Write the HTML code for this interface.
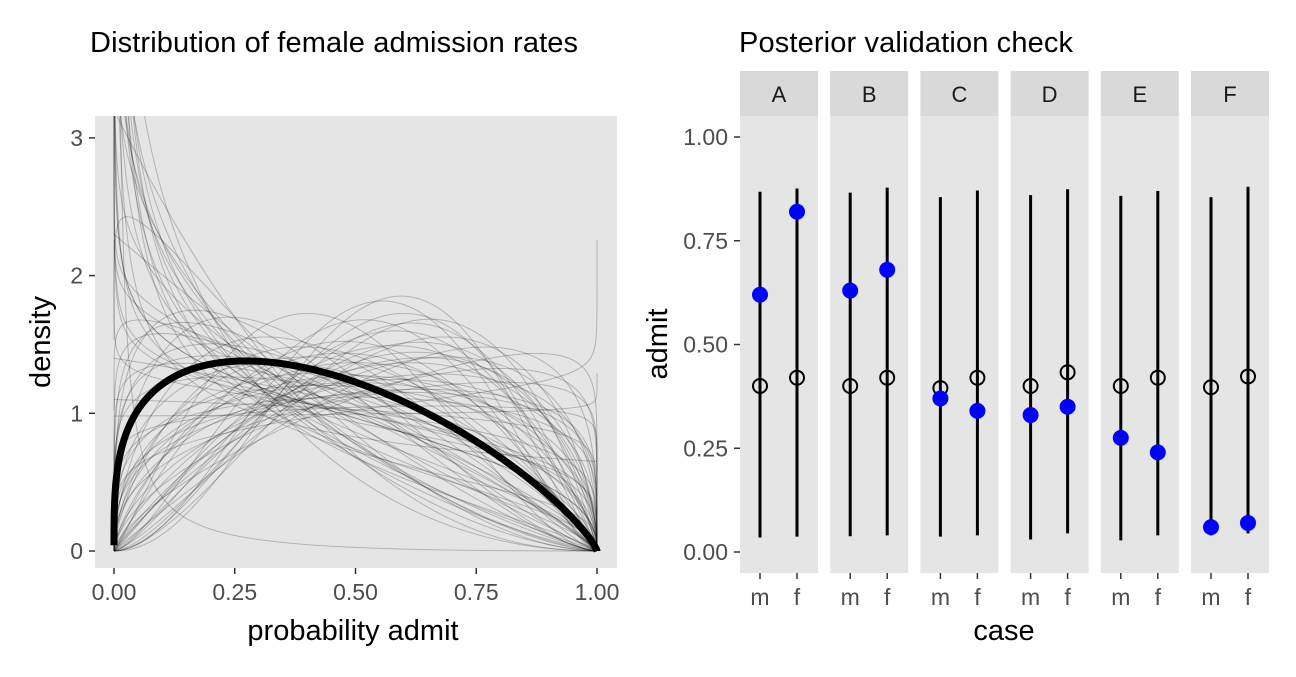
<!DOCTYPE html>
<html><head><meta charset="utf-8"><style>
body{margin:0;background:#fff;font-family:"Liberation Sans",sans-serif}
svg text{font-family:"Liberation Sans",sans-serif}
</style></head><body>
<svg id="s" width="1296" height="672" xmlns="http://www.w3.org/2000/svg">
<defs><clipPath id="lc"><rect x="95" y="116" width="522" height="452"/></clipPath></defs>
<text x="90" y="52" font-size="29" textLength="488" fill="#000">Distribution of female admission rates</text>
<text x="739" y="52" font-size="29" textLength="334" fill="#000">Posterior validation check</text>
<rect x="95" y="116" width="522" height="452" fill="#e5e5e5"/>
<g id="lg"></g><g id="rg"></g>
<text x="353" y="640" font-size="29" text-anchor="middle">probability admit</text>
<text transform="translate(50,342) rotate(-90)" font-size="29" text-anchor="middle">density</text>
<text x="1004" y="640" font-size="29" text-anchor="middle">case</text>
<text transform="translate(667,344) rotate(-90)" font-size="29" text-anchor="middle">admit</text>
</svg>
<script>
const NS="http://www.w3.org/2000/svg";
const mainShape=[1.3,1.8];
const alphas=[0.6,0.7,0.8,0.9,1.0,1.1,1.2,1.3,1.4,1.5,1.6,1.8,2.0,2.2,2.5,0.75,0.85,0.95,1.05,1.15,1.25,1.35,1.45,1.6,1.7,1.9,2.1,2.4,2.8,3.0,0.65,0.9,1.1,1.3,1.5,1.7,2.0,2.3,2.6,0.8,1.0,1.2,1.4,1.6,1.8,2.2,0.7,1.0,1.3,1.7,2.0,0.9,1.2,1.5,0.85,1.1,1.6,1.9,0.05,1.2,3.2,2.7,1.4,1.0,0.95,0.55,0.6,0.7,0.75,0.8,0.85,0.9,0.95,1.0,1.05];
const betas=[1.5,2.0,1.2,2.5,1.1,1.6,2.2,1.4,1.8,2.6,1.3,1.9,2.1,1.7,2.4,3.0,1.4,1.8,2.8,1.5,2.0,1.2,1.6,2.3,1.1,1.4,1.8,2.0,2.2,2.6,1.0,1.3,1.9,2.5,1.5,1.7,1.3,1.6,2.0,2.2,3.2,1.2,1.4,1.9,1.5,2.8,1.7,1.4,1.2,2.1,1.6,1.25,1.8,1.35,2.4,1.05,1.15,1.5,3.0,0.95,2.5,1.9,1.1,0.98,1.7,1.3,1.8,2.2,1.6,2.6,1.4,2.0,1.2,2.3,1.9];
const xTicks=[0,0.25,0.5,0.75,1], xLabels=["0.00","0.25","0.50","0.75","1.00"];
const yTicks=[0,1,2,3];
const X=v=>114+v*483, Y=v=>551-v*137.7;
function lg(z){const g=[0.99999999999980993,676.5203681218851,-1259.1392167224028,771.32342877765313,-176.61502916214059,12.507343278686905,-0.13857109526572012,9.9843695780195716e-6,1.5056327351493116e-7];
 if(z<0.5)return Math.log(Math.PI/Math.sin(Math.PI*z))-lg(1-z);z-=1;let x=g[0];for(let i=1;i<9;i++)x+=g[i]/(z+i);const t=z+7.5;return 0.5*Math.log(2*Math.PI)+(z+0.5)*Math.log(t)-t+Math.log(x);}
function dens(x,a,b){return Math.exp((a-1)*Math.log(x)+(b-1)*Math.log(1-x)+lg(a+b)-lg(a)-lg(b));}
const xs=[];for(let i=0;i<=400;i++){let u=i/400;xs.push(u<0.5?0.5*Math.pow(2*u,3):1-0.5*Math.pow(2*(1-u),3));}
function pathFor(a,b){let d="";xs.forEach((x,i)=>{let xx=Math.min(Math.max(x,1e-6),1-1e-6);let y=Math.min(dens(xx,a,b),4);d+=(i?"L":"M")+X(x).toFixed(2)+","+Y(y).toFixed(2);});return d;}
const L=document.getElementById("lg");
function mk(tag,at,par){const e=document.createElementNS(NS,tag);for(const k in at)e.setAttribute(k,at[k]);par.appendChild(e);return e;}
yTicks.forEach(t=>{
 mk("line",{x1:89,x2:95,y1:Y(t),y2:Y(t),stroke:"#333","stroke-width":1.5},L);
 const tx=mk("text",{x:83,y:Y(t)+8,"font-size":23,"text-anchor":"end",fill:"#4d4d4d"},L);tx.textContent=t;});
xTicks.forEach((t,i)=>{
 mk("line",{x1:X(t),x2:X(t),y1:568,y2:574,stroke:"#333","stroke-width":1.5},L);
 const tx=mk("text",{x:X(t),y:600,"font-size":23,"text-anchor":"middle",fill:"#4d4d4d"},L);tx.textContent=xLabels[i];});
const cg=mk("g",{"clip-path":"url(#lc)"},L);
alphas.forEach((a,i)=>{const p=mk("path",{d:pathFor(a,betas[i]),fill:"none",stroke:"#000","stroke-opacity":0.22,"stroke-width":1},cg);});
const mp=mk("path",{d:pathFor(mainShape[0],mainShape[1]),fill:"none",stroke:"#000","stroke-width":7,"stroke-linejoin":"round"},cg);

const depts=["A","B","C","D","E","F"];
const cases=["m","f"];
const observed=[[0.62,0.82],[0.63,0.68],[0.37,0.34],[0.33,0.35],[0.275,0.24],[0.06,0.07]];
const predMean=[[0.40,0.42],[0.40,0.42],[0.395,0.42],[0.40,0.433],[0.40,0.42],[0.397,0.423]];
const predLo=[[0.035,0.037],[0.038,0.04],[0.037,0.04],[0.03,0.045],[0.028,0.04],[0.04,0.045]];
const predHi=[[0.868,0.876],[0.866,0.878],[0.855,0.871],[0.86,0.874],[0.858,0.87],[0.855,0.88]];
const rTicks=[0,0.25,0.5,0.75,1], rLabels=["0.00","0.25","0.50","0.75","1.00"];
const R=document.getElementById("rg");
const RY=v=>552-v*415;
const panelW=78, gap=12.2, p0=740;
rTicks.forEach((t,i)=>{mk("line",{x1:734,x2:740,y1:RY(t),y2:RY(t),stroke:"#333","stroke-width":1.5},R);
 const tx=mk("text",{x:728,y:RY(t)+8,"font-size":23,"text-anchor":"end",fill:"#4d4d4d"},R);tx.textContent=rLabels[i];});
depts.forEach((d,j)=>{const px=p0+j*(panelW+gap);
 const bg=mk("rect",{x:px,y:116,width:panelW,height:457,fill:"#e5e5e5"},R);
 const st=mk("rect",{x:px,y:71,width:panelW,height:45,fill:"#d9d9d9"},R);
 const sl=mk("text",{x:px+panelW/2,y:102,"font-size":22,"text-anchor":"middle",fill:"#1a1a1a"},R);sl.textContent=d;
 cases.forEach((c,k)=>{const cx=px+20+k*37;
  mk("line",{x1:cx,x2:cx,y1:573,y2:579,stroke:"#333","stroke-width":1.5},R);
  const tl=mk("text",{x:cx,y:605,"font-size":23,"text-anchor":"middle",fill:"#4d4d4d"},R);tl.textContent=c;
  const ln=mk("line",{x1:cx,x2:cx,y1:RY(predLo[j][k]),y2:RY(predHi[j][k]),stroke:"#000","stroke-width":3},R);
  const oc=mk("circle",{cx:cx,cy:RY(predMean[j][k]),r:7,fill:"none",stroke:"#000","stroke-width":2},R);
  const bc=mk("circle",{cx:cx,cy:RY(observed[j][k]),r:8,fill:"#0000ff"},R);
 });
});
</script>
</body></html>
